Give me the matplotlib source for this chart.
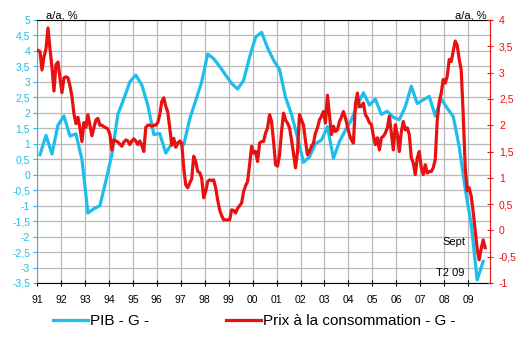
import numpy as np
import matplotlib.pyplot as plt
from matplotlib.ticker import FuncFormatter, MultipleLocator

plt.rcParams['font.family'] = ['Liberation Sans', 'DejaVu Sans']
plt.rcParams['axes.unicode_minus'] = False

# PIB, glissement annuel, trimestriel a partir de T1 1991
pib = [0.65, 1.27, 0.67, 1.6,
       1.9, 1.25, 1.32, 0.5,
       -1.24, -1.1, -1.0, -0.2,
       0.65, 1.95, 2.45, 3.0,
       3.22, 2.9, 2.25, 1.3,
       1.33, 0.7, 1.0, 1.03,
       0.97, 1.8, 2.4, 3.0,
       3.9, 3.75, 3.5, 3.22,
       2.95, 2.77, 3.05, 3.8,
       4.45, 4.6, 4.1, 3.7,
       3.4, 2.5, 1.95, 1.2,
       0.4, 0.58, 1.0, 1.12,
       1.55, 0.53, 1.07, 1.44,
       1.77, 2.25, 2.65, 2.25,
       2.44, 1.95, 2.05, 1.85,
       1.78, 2.2, 2.86, 2.3,
       2.42, 2.53, 1.9, 2.45,
       2.15, 1.88, 0.9, -0.45,
       -1.6, -3.4, -2.8]

# Prix a la consommation, glissement annuel, mensuel a partir de janvier 1991
prix = [3.42, 3.40, 3.05, 3.30, 3.45, 3.85, 3.45, 3.10, 2.65, 3.15, 3.20, 2.90,
        2.62, 2.90, 2.92, 2.90, 2.75, 2.55, 2.22, 2.03, 2.15, 1.95, 1.69, 2.05,
        1.96, 2.20, 2.00, 1.80, 1.95, 2.10, 2.13, 2.00, 2.00, 1.97, 1.95, 1.93,
        1.83, 1.53, 1.72, 1.70, 1.68, 1.64, 1.60, 1.68, 1.72, 1.70, 1.63, 1.70,
        1.74, 1.70, 1.63, 1.70, 1.62, 1.50, 1.96, 2.00, 2.00, 1.98, 2.00, 2.00,
        2.05, 2.20, 2.45, 2.52, 2.36, 2.25, 1.95, 1.62, 1.75, 1.58, 1.65, 1.70,
        1.66, 1.19, 0.87, 0.81, 0.90, 0.98, 1.41, 1.31, 1.12, 1.10, 0.99, 0.62,
        0.74, 0.93, 0.96, 0.95, 0.96, 0.81, 0.58, 0.39, 0.28, 0.20, 0.20, 0.20,
        0.20, 0.39, 0.38, 0.33, 0.42, 0.47, 0.52, 0.74, 0.85, 0.93, 1.25, 1.60,
        1.47, 1.50, 1.31, 1.66, 1.69, 1.69, 1.85, 1.95, 2.20, 2.07, 1.69, 1.25,
        1.22, 1.44, 1.88, 2.23, 2.10, 2.04, 1.95, 1.72, 1.45, 1.19, 1.50, 2.20,
        2.10, 2.00, 1.70, 1.44, 1.50, 1.60, 1.66, 1.85, 1.95, 2.10, 2.17, 2.26,
        2.04, 2.57, 2.20, 1.82, 1.98, 1.88, 1.91, 2.07, 2.15, 2.26, 2.14, 1.98,
        1.82, 1.72, 1.66, 2.40, 2.61, 2.35, 2.36, 2.42, 2.20, 2.14, 2.05, 2.01,
        1.80, 1.63, 1.76, 1.53, 1.76, 1.79, 1.85, 1.95, 2.17, 1.85, 1.53, 2.01,
        1.82, 1.50, 1.88, 2.07, 1.91, 1.95, 1.82, 1.38, 1.28, 1.06, 1.38, 1.50,
        1.19, 1.06, 1.25, 1.09, 1.12, 1.12, 1.19, 1.35, 2.10, 2.45, 2.61, 2.87,
        2.80, 2.93, 3.25, 3.21, 3.40, 3.60, 3.52, 3.25, 3.05, 2.20, 1.20, 0.75,
        0.81, 0.65, 0.35, 0.00, -0.35, -0.56, -0.35, -0.18, -0.33]

years = list(range(1991, 2010))
year_labels = [str(y)[2:] for y in years]

pib_x = 1991 + (np.arange(len(pib)) + 0.5) / 4
prix_x = 1991 + (np.arange(len(prix)) + 0.5) / 12

BLUE = '#1EBEEB'
RED = '#E81010'

fig = plt.figure(figsize=(5.3, 3.46), dpi=100)
ax = fig.add_axes([37/530, 1 - 283/346, (490 - 37)/530, (283 - 20)/346])
ax2 = ax.twinx()

l1, = ax.plot(pib_x, pib, color=BLUE, lw=2.3)
l2, = ax2.plot(prix_x, prix, color=RED, lw=2.3)

ax.set_xlim(1991, 2009.91)
ax.set_ylim(-3.5, 5)
ax2.set_ylim(-1, 4)
ax.set_xticks(years)
ax.set_xticklabels(year_labels)
ax.yaxis.set_major_locator(MultipleLocator(0.5))
ax2.yaxis.set_major_locator(MultipleLocator(0.5))
comma = FuncFormatter(lambda v, p: ('%g' % v).replace('.', ','))
ax.yaxis.set_major_formatter(comma)
ax2.yaxis.set_major_formatter(comma)

ax.grid(True, color='#b8b8b8', lw=0.9)
ax.set_axisbelow(True)

ax.spines['left'].set_color(BLUE)
ax.spines['right'].set_visible(False)
ax.spines['top'].set_color('black')
ax.spines['bottom'].set_color('black')
for s in ['left', 'top', 'bottom']:
    ax2.spines[s].set_visible(False)
ax2.spines['right'].set_color(RED)

ax.tick_params(axis='x', direction='inout', length=5, pad=6, labelsize=7.5, color='black')
ax.tick_params(axis='y', colors=BLUE, direction='out', length=3, pad=2, labelsize=7.5)
ax2.tick_params(axis='y', colors=RED, direction='inout', length=5, pad=4, labelsize=7.5)

fig.text(46/530, 1 - 15/346, 'a/a, %', ha='left', va='center', fontsize=8)
fig.text(487/530, 1 - 15/346, 'a/a, %', ha='right', va='center', fontsize=8)

ax2.annotate('Sept', (prix_x[-1], prix[-1]), xytext=(-14, 4), textcoords='offset points',
             ha='right', va='center', fontsize=8)
i_min = int(np.argmin(pib))
ax.annotate('T2 09', (pib_x[i_min], pib[i_min]), xytext=(-9, 5), textcoords='offset points',
            ha='right', va='center', fontsize=8)

fig.legend([l1, l2], ['PIB - G -', 'Prix à la consommation - G -'],
           loc='center left', bbox_to_anchor=(53/530, 1 - 321/346), ncol=2,
           frameon=False, fontsize=11, handlelength=2.3, handletextpad=0.15,
           columnspacing=5.0, borderaxespad=0, borderpad=0)

plt.savefig('out.png', dpi=100)
